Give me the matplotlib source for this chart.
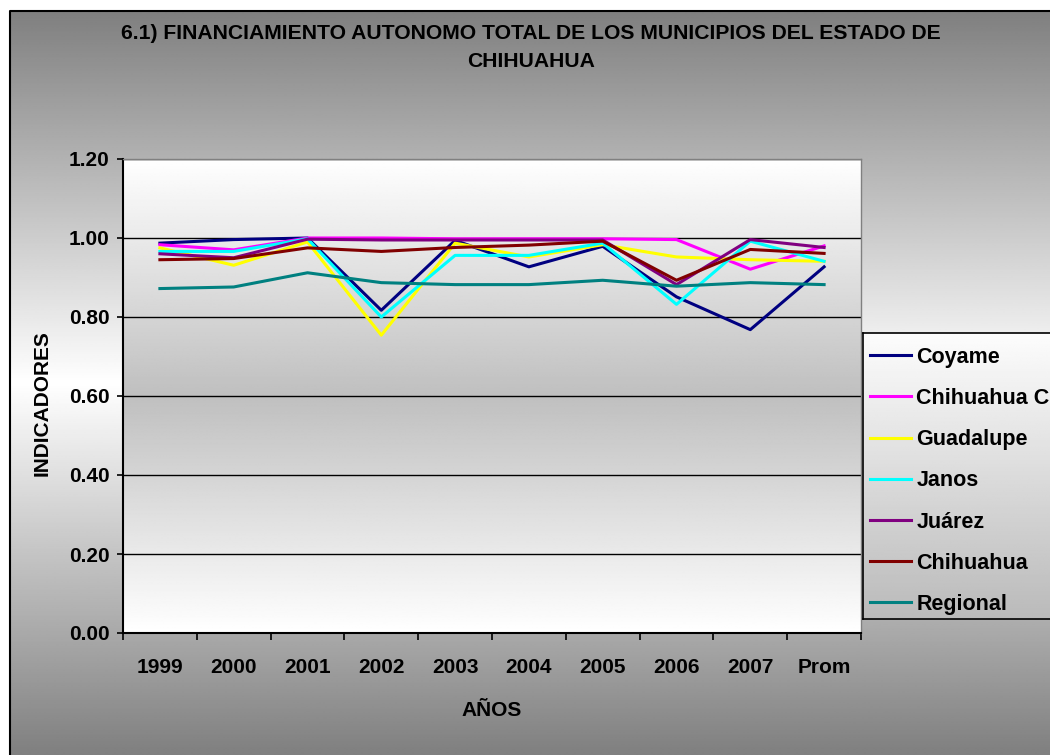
import numpy as np
import matplotlib
matplotlib.use('Agg')
import matplotlib.pyplot as plt

plt.rcParams['font.family'] = ['Liberation Sans', 'DejaVu Sans']
plt.rcParams['font.weight'] = 'bold'

years = ['1999', '2000', '2001', '2002', '2003', '2004', '2005', '2006', '2007', 'Prom']
coyame = [0.987, 0.996, 1.000, 0.817, 0.994, 0.927, 0.979, 0.851, 0.768, 0.927]
chih_c = [0.983, 0.970, 1.000, 1.000, 0.998, 0.998, 0.998, 0.996, 0.921, 0.980]
guadalupe = [0.975, 0.931, 0.990, 0.754, 0.987, 0.952, 0.983, 0.952, 0.945, 0.941]
janos = [0.966, 0.966, 0.998, 0.800, 0.956, 0.956, 0.987, 0.832, 0.992, 0.941]
juarez = [0.960, 0.950, 0.997, 0.995, 0.995, 0.995, 0.995, 0.882, 0.996, 0.976]
chihuahua = [0.945, 0.948, 0.975, 0.966, 0.976, 0.982, 0.992, 0.893, 0.971, 0.961]
regional = [0.872, 0.876, 0.912, 0.887, 0.882, 0.882, 0.893, 0.878, 0.887, 0.882]

names = ['Coyame', 'Chihuahua C', 'Guadalupe', 'Janos', 'Juárez', 'Chihuahua', 'Regional']
series = [coyame, chih_c, guadalupe, janos, juarez, chihuahua, regional]
colors = ['#000080', '#FF00FF', '#FFFF00', '#00FFFF', '#800080', '#800000', '#008080']

W, H = 1050, 755
fig = plt.figure(figsize=(W / 100, H / 100), dpi=100, facecolor='white')

# background with center gradient (gray edges, white middle)
bg = fig.add_axes([0, 0, 1, 1], zorder=-10)
bg.set_xlim(0, 1)
bg.set_ylim(0, 1)
bg.axis('off')
t = np.linspace(0, 1, 400)
g = 0.5 + 0.5 * (1 - np.abs(2 * t - 1))
bg.imshow(np.tile(g[:, None], (1, 2)), cmap='gray', vmin=0, vmax=1, aspect='auto',
          extent=[10 / W, 1.05, 0, 1 - 11 / H], origin='lower', interpolation='bilinear')
bg.plot([10 / W, 10 / W, 1.05], [-0.05, 1 - 11 / H, 1 - 11 / H], color='black', lw=1.5,
        clip_on=False)

# plot area
ax = fig.add_axes([123 / W, 1 - 633 / H, 738 / W, 474 / H])
g2 = 0.75 + 0.25 * np.abs(2 * t - 1)
ax.imshow(np.tile(g2[:, None], (1, 2)), cmap='gray', vmin=0, vmax=1, aspect='auto',
          extent=[0, 1, 0, 1], transform=ax.transAxes, origin='lower', zorder=0,
          interpolation='bilinear')

x = np.arange(len(years))
for vals, name, c in zip(series, names, colors):
    ax.plot(x, vals, color=c, lw=2.2, label=name, zorder=3)

ax.set_xlim(-0.5, len(years) - 0.5)
ax.set_ylim(0, 1.2)
ax.set_yticks(np.arange(0, 1.21, 0.2))
ax.set_yticklabels(['%.2f' % v for v in np.arange(0, 1.21, 0.2)])
for v in np.arange(0.2, 1.21, 0.2):
    ax.axhline(v, color='black', lw=1.0, zorder=2)

ax.set_xticks(np.arange(-0.5, len(years), 1.0))
ax.set_xticklabels([])
ax.set_xticks(x, minor=True)
ax.set_xticklabels(years, minor=True)
ax.tick_params(axis='x', which='major', direction='out', length=5, width=1.2)
ax.tick_params(axis='x', which='minor', length=0, pad=18, labelsize=15)
ax.tick_params(axis='y', direction='out', length=4.5, width=1.2, pad=5, labelsize=15)

for s in ['left', 'bottom']:
    ax.spines[s].set_color('black')
    ax.spines[s].set_linewidth(1.5)
for s in ['top', 'right']:
    ax.spines[s].set_color('#808080')
    ax.spines[s].set_linewidth(1.0)

ax.set_xlabel('AÑOS', fontsize=15, fontweight='bold')
ax.xaxis.set_label_coords(0.5, -(711 - 633) / 474)
ax.xaxis.label.set_verticalalignment('center')
ax.set_ylabel('INDICADORES', fontsize=15, fontweight='bold')
ax.yaxis.set_label_coords(-(123 - 42.5) / 738, (633 - 403) / 474)
ax.yaxis.label.set_verticalalignment('center')

fig.text(531 / W, 1 - 47.5 / H,
         '6.1) FINANCIAMIENTO AUTONOMO TOTAL DE LOS MUNICIPIOS DEL ESTADO DE\nCHIHUAHUA',
         ha='center', va='center', fontsize=15.2, fontweight='bold', linespacing=1.6)

# legend box with gradient
lg = fig.add_axes([863 / W, 1 - 619 / H, 260 / W, 286 / H], zorder=1)
lg.imshow(np.tile(np.linspace(0.73, 0.99, 200)[:, None], (1, 2)), cmap='gray', vmin=0,
          vmax=1, aspect='auto', extent=[0, 1, 0, 1], origin='lower')
lg.set_xticks([])
lg.set_yticks([])
for s in lg.spines.values():
    s.set_color('black')
    s.set_linewidth(1.2)

handles, labels = ax.get_legend_handles_labels()
leg = fig.legend(handles, labels, loc='upper left', bbox_to_anchor=(863 / W, 1 - 339.5 / H),
                 frameon=False, fontsize=15.5, handlelength=1.9, handletextpad=0.25,
                 labelspacing=0.94, borderpad=0.33, borderaxespad=0)
leg.set_zorder(5)

fig.savefig('out.png', dpi=100)
